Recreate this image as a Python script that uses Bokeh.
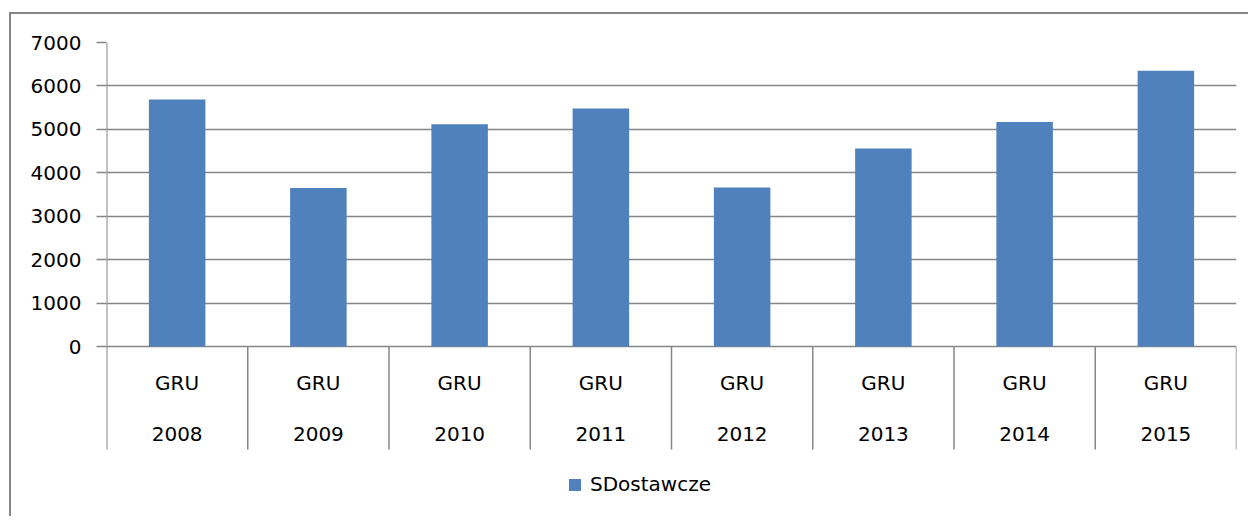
from bokeh.plotting import figure
from bokeh.models import Range1d, FixedTicker, Legend, LegendItem, ColumnDataSource
from bokeh.embed import file_html
from bokeh.resources import INLINE
from bokeh.core.properties import value

years = ["2008", "2009", "2010", "2011", "2012", "2013", "2014", "2015"]
groups = ["GRU"] * 8
sdostawcze = [5690, 3650, 5120, 5480, 3660, 4560, 5170, 6350]
y_ticks = [0, 1000, 2000, 3000, 4000, 5000, 6000, 7000]
series_name = "SDostawcze"

FONT = "DejaVu Sans"
FSIZE = "20px"
GRAY = "#868686"
BAR = "#4F81BD"
TXT = "#000000"

n = len(years)
y_max = y_ticks[-1]
plot_px = 304.0      # pixels from 0 to 7000
label_px = 103.0     # pixels of category label band below 0
frame_px = 468.0     # full frame height (includes legend band)
px_val = y_max / plot_px
y_band = label_px * px_val
y_start = -(frame_px - plot_px) * px_val

xs = [i + 0.5 for i in range(n)]
src = ColumnDataSource(dict(x=xs, top=sdostawcze, year=years, grp=groups,
                            gy=[-y_band * 0.35] * n, yy=[-y_band * 0.85] * n))

p = figure(width=1239, height=504, output_backend="svg", toolbar_location=None,
           x_range=Range1d(0, n), y_range=Range1d(y_start, y_max),
           min_border_left=95, min_border_right=14, min_border_top=28, min_border_bottom=8)
p.styles = {"border-left": "2px solid #868686", "border-top": "2px solid #868686",
            "margin-left": "9px", "margin-top": "12px"}
p.outline_line_color = None
p.background_fill_color = "white"
p.border_fill_color = "white"

# bars
r = p.vbar(x="x", top="top", bottom=0, width=0.4, source=src, fill_color=BAR, line_color=None)

# value axis line, continuing down as first category separator
p.segment(x0=[0], x1=[0], y0=[-y_band], y1=[y_max], line_color=GRAY, line_width=2)
# category separators below the axis
bounds = list(range(1, n + 1))
p.segment(x0=bounds, x1=bounds, y0=[0] * n, y1=[-y_band] * n,
          line_color=GRAY, line_width=1.5)

# category labels
p.text(x="x", y="gy", text="grp", source=src, text_align="center", text_baseline="middle",
       text_font=value(FONT), text_font_size=FSIZE, text_color=TXT)
p.text(x="x", y="yy", text="year", source=src, text_align="center", text_baseline="middle",
       text_font=value(FONT), text_font_size=FSIZE, text_color=TXT)

# axes
p.xaxis.visible = False
p.xgrid.visible = False
yax = p.yaxis[0]
yax.ticker = FixedTicker(ticks=y_ticks)
yax.axis_line_color = None
yax.major_tick_line_color = GRAY
yax.major_tick_line_width = 1.5
yax.major_tick_in = 0
yax.major_tick_out = 10
yax.minor_tick_line_color = None
yax.major_label_standoff = 15
yax.major_label_text_font = FONT
yax.major_label_text_font_size = FSIZE
yax.major_label_text_color = TXT
p.ygrid.ticker = FixedTicker(ticks=y_ticks)
p.ygrid.grid_line_color = GRAY
p.ygrid.grid_line_width = 1.5

legend = Legend(items=[LegendItem(label=series_name, renderers=[r])],
                location=(461, 14), orientation="horizontal",
                glyph_width=15, glyph_height=15, label_standoff=8,
                padding=0, margin=0, border_line_color=None, background_fill_alpha=0,
                label_text_font=FONT, label_text_font_size=FSIZE, label_text_color=TXT)
p.add_layout(legend, "center")

open("out.html", "w").write(file_html(p, INLINE))
